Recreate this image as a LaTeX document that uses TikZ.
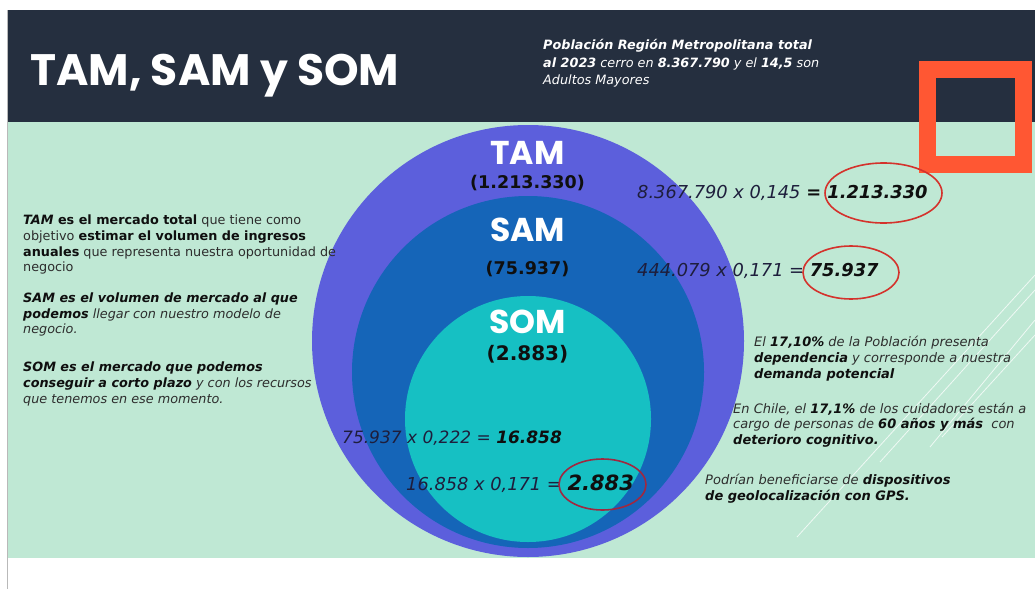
\documentclass[tikz,border=0pt]{standalone}
\usepackage{fontspec}
\setmainfont{DejaVu Sans}
\newfontfamily\pop{Poppins}
\definecolor{bggreen}{RGB}{191,232,212}
\definecolor{header}{RGB}{37,47,63}
\definecolor{tamc}{RGB}{92,95,220}
\definecolor{samc}{RGB}{21,101,184}
\definecolor{somc}{RGB}{22,192,195}
\definecolor{orangec}{RGB}{255,87,51}
\definecolor{redc}{RGB}{212,50,44}
\definecolor{maroonc}{RGB}{160,40,64}
\definecolor{eqc}{RGB}{30,30,60}
\definecolor{bodyc}{RGB}{45,45,45}
\definecolor{boldc}{RGB}{15,15,15}
\tikzset{
  txt/.style={inner sep=0pt, anchor=base west},
  ctxt/.style={inner sep=0pt, anchor=base},
  lefttext/.style={txt, text=bodyc, font=\fontsize{12.8}{15}\selectfont},
  righttext/.style={txt, text=bodyc, font=\fontsize{13}{15}\selectfont},
  headtext/.style={txt, text=white, font=\fontsize{12.8}{15}\selectfont},
  eqtext/.style={txt, text=eqc, font=\fontsize{17.8}{20}\selectfont\itshape},
  bigname/.style={ctxt, text=white, font=\fontsize{33}{36}\selectfont\pop\bfseries},
  bignum/.style={ctxt, text=boldc, font=\fontsize{17.5}{20}\selectfont\bfseries},
  deco/.style={white, opacity=0.75, line width=0.8pt},
  mark ring/.style={line width=1.6pt}
}
\newcommand{\bk}[1]{\textcolor{boldc}{\textbf{#1}}}
\begin{document}
\begin{tikzpicture}[x=1pt,y=-1pt]
\useasboundingbox (0,0) rectangle (1035,589);
\fill[white] (0,0) rectangle (1035,589);
\fill[bggreen] (7,122) rectangle (1035,558);
% decorative lines
\draw[deco] (797,537) -- (1035,275);
\draw[deco] (880,462) -- (1035,290);
\draw[deco] (930,447) -- (1035,320);
\draw[deco] (942,437) -- (1035,335);
\fill[header] (7,10) rectangle (1035,122);
\draw[gray!55, line width=0.6pt] (7,10) -- (7,589);
% circles
\fill[tamc] (528,341) circle [radius=216];
\fill[samc] (528,372) circle [radius=176];
\fill[somc] (528,419) circle [radius=123];
% orange frame
\draw[orangec, line width=17pt] (927.5,69.5) rectangle (1023.5,164);
% title
\node[txt, text=white, font=\fontsize{44}{48}\selectfont\pop\bfseries] (title) at (30,85) {TAM, SAM y SOM};
\node[headtext] (h1) at (543,49.5) {\textbf{\textit{Población Región Metropolitana total}}};
\node[headtext] (h2) at (543,67) {\textit{\textbf{al 2023} cerro en \textbf{8.367.790} y el \textbf{14,5} son}};
\node[headtext] (h3) at (543,84) {\textit{Adultos Mayores}};
% circle labels
\node[bigname] (tam) at (527.5,164) {TAM};
\node[bignum] (tamv) at (527.5,188) {(1.213.330)};
\node[bigname] (sam) at (527.5,241.5) {SAM};
\node[bignum] (samv) at (527.5,274.5) {(75.937)};
\node[bigname] (som) at (527.5,333) {SOM};
\node[bignum, font=\fontsize{20}{22}\selectfont\bfseries] (somv) at (527.5,360.5) {(2.883)};
% left text
\node[lefttext] (l1) at (23,224.5) {\bk{\textit{TAM} es el mercado total} que tiene como};
\node[lefttext] (l2) at (23,240.5) {objetivo \bk{estimar el volumen de ingresos}};
\node[lefttext] (l3) at (23,256) {\bk{anuales} que representa nuestra oportunidad de};
\node[lefttext] (l4) at (23,271.5) {negocio};
\node[lefttext] (l5) at (23,302.5) {\bk{\textit{SAM es el volumen de mercado al que}}};
\node[lefttext] (l6) at (23,318.5) {\textit{\bk{podemos} llegar con nuestro modelo de}};
\node[lefttext] (l7) at (23,333.5) {\textit{negocio.}};
\node[lefttext] (l8) at (23,371.5) {\bk{\textit{SOM es el mercado que podemos}}};
\node[lefttext] (l9) at (23,387.5) {\textit{\bk{conseguir a corto plazo} y con los recursos}};
\node[lefttext] (l10) at (23,403.5) {\textit{que tenemos en ese momento.}};
% right text
\node[righttext] (r1) at (754,346) {\textit{El \bk{17,10\%} de la Población presenta}};
\node[righttext] (r2) at (754,362) {\textit{\bk{dependencia} y corresponde a nuestra}};
\node[righttext] (r3) at (754,378) {\textit{\bk{demanda potencial}}};
\node[righttext] (r4) at (733,413) {\textit{En Chile, el \bk{17,1\%} de los cuidadores están a}};
\node[righttext] (r5) at (733,428.5) {\textit{cargo de personas de \bk{60 años y más}\ \ con}};
\node[righttext] (r6) at (733,444.5) {\textit{\bk{deterioro cognitivo.}}};
\node[righttext] (r7) at (705,484.5) {\textit{Podrían beneficiarse de \bk{dispositivos}}};
\node[righttext] (r8) at (705,500) {\textit{\bk{de geolocalización con GPS.}}};
% equations
\node[eqtext] (e1) at (637,198.5) {8.367.790 x 0,145 \bk{= 1.213.330}};
\node[eqtext] (e2) at (637,276.7) {444.079 x 0,171 = \bk{75.937}};
\node[eqtext, font=\fontsize{17}{20}\selectfont\itshape] (e3) at (342,443.5) {75.937 x 0,222 = \bk{16.858}};
\node[eqtext] (e4) at (406,490) {16.858 x 0,171 = {\fontsize{21}{22}\selectfont\bk{2.883}}};
% rings
\draw[redc, mark ring] (883.5,193) ellipse [x radius=58.5, y radius=30];
\draw[redc, mark ring] (851,272.5) ellipse [x radius=48, y radius=26.5];
\draw[maroonc, mark ring] (602.5,484.5) ellipse [x radius=43.5, y radius=25.5];
\end{tikzpicture}
\end{document}
